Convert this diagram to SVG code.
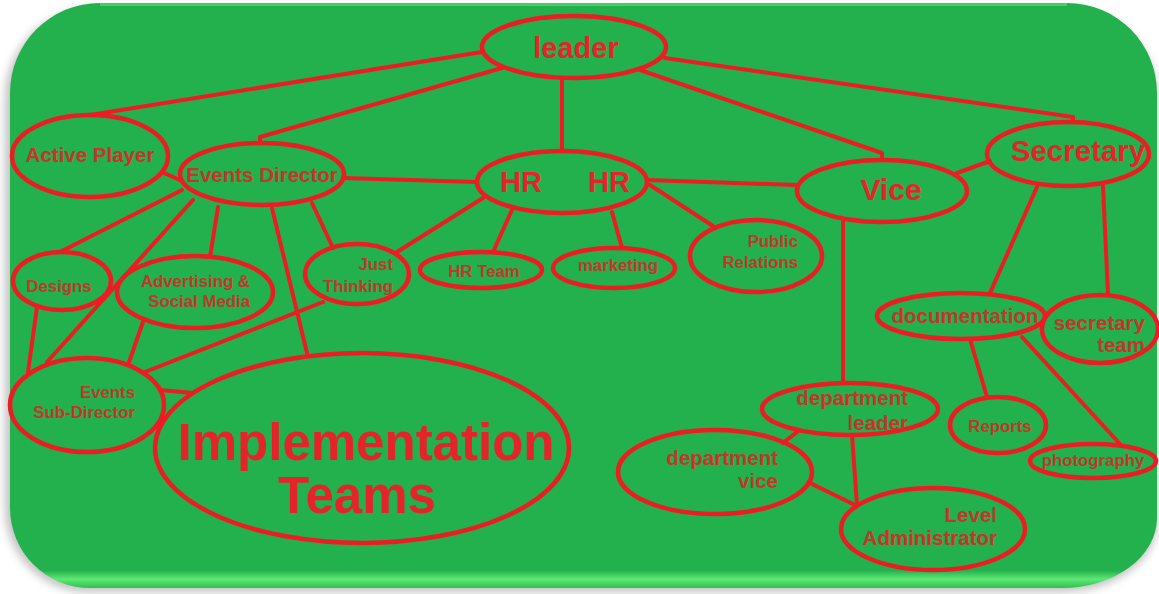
<svg xmlns="http://www.w3.org/2000/svg" width="1159" height="594" viewBox="0 0 1159 594">
<defs>
<style>
.n{fill:none;stroke:#ec1c24;stroke-width:4.5}
.c line,.c polyline{fill:none;stroke:#ec1c24;stroke-width:4;stroke-linecap:round;stroke-linejoin:round}
text{font-family:"Liberation Sans",Arial,sans-serif;font-weight:bold}
.s{fill:#c0372c;font-size:16.8px}
.m{fill:#c4352b;font-size:20.5px}
.b{fill:#e3252b}
</style>
<filter id="sh" x="-5%" y="-5%" width="110%" height="110%"><feGaussianBlur stdDeviation="4"/></filter>
<linearGradient id="gb" x1="0" y1="0" x2="0" y2="1">
<stop offset="0" stop-color="#22b14c"/>
<stop offset="0.97" stop-color="#22b14c"/>
<stop offset="0.985" stop-color="#5fe874"/>
<stop offset="1" stop-color="#2fbf4f"/>
</linearGradient>
</defs>
<rect width="1159" height="594" fill="#ffffff"/>
<path d="M5,98 A90,90 0 0 1 95,8 H1065 A92,90 0 0 1 1157,98 V520 A95,70 0 0 1 1062,592 H88 A83,83 0 0 1 5,509 Z" fill="#9a9a9a" opacity="0.6" filter="url(#sh)"/>
<path d="M10,93 A90,90 0 0 1 100,3 H1067 A90,90 0 0 1 1157,93 V518 A95,70 0 0 1 1062,588 H90 A80,80 0 0 1 10,508 Z" fill="url(#gb)"/>
<path d="M100,4.5 H1067" stroke="#5fe37a" stroke-width="3" opacity="0.6"/>

<g class="c" id="connectors">
<line x1="482" y1="52" x2="90" y2="115"/>
<polyline points="502,68 260,137 260,143"/>
<line x1="562" y1="78" x2="562" y2="151"/>
<polyline points="640,70 882,153 882,160"/>
<polyline points="665,58 1073,117 1073,122"/>
<line x1="162" y1="172" x2="182" y2="181"/>
<line x1="343" y1="178" x2="477" y2="182"/>
<line x1="647" y1="180" x2="797" y2="185"/>
<line x1="957" y1="173" x2="990" y2="161"/>
<line x1="182" y1="190" x2="60" y2="252"/>
<line x1="193" y1="200" x2="47" y2="362"/>
<line x1="218" y1="207" x2="210" y2="257"/>
<line x1="272" y1="208" x2="307" y2="353"/>
<line x1="312" y1="203" x2="333" y2="248"/>
<line x1="483" y1="198" x2="397" y2="252"/>
<line x1="512" y1="210" x2="493" y2="252"/>
<line x1="612" y1="212" x2="622" y2="248"/>
<line x1="650" y1="185" x2="713" y2="226"/>
<line x1="37" y1="307" x2="28" y2="372"/>
<line x1="143" y1="322" x2="128" y2="365"/>
<line x1="323" y1="302" x2="145" y2="372"/>
<line x1="160" y1="390" x2="193" y2="393"/>
<line x1="843" y1="222" x2="843" y2="383"/>
<line x1="1037" y1="187" x2="990" y2="293"/>
<line x1="1103" y1="186" x2="1108" y2="295"/>
<line x1="970" y1="339" x2="987" y2="397"/>
<line x1="1022" y1="337" x2="1120" y2="444"/>
<line x1="797" y1="432" x2="783" y2="443"/>
<line x1="852" y1="435" x2="857" y2="505"/>
<line x1="810" y1="483" x2="853" y2="504"/>
</g>

<g id="leader"><ellipse class="n" cx="574" cy="47" rx="92" ry="31"/><text class="b" x="576" y="58" font-size="29" text-anchor="middle">leader</text></g>
<g id="hr"><ellipse class="n" cx="562" cy="182" rx="85" ry="31"/><text class="b" x="521" y="192" font-size="29" text-anchor="middle">HR</text><text class="b" x="609" y="192" font-size="29" text-anchor="middle">HR</text></g>
<g id="active-player"><ellipse class="n" cx="90" cy="156" rx="78" ry="41"/><text class="m" x="90" y="162" font-size="21.5" text-anchor="middle" fill="#cf2f2c">Active Player</text></g>
<g id="events-director"><ellipse class="n" cx="262" cy="174" rx="82" ry="31"/><text class="m" x="262" y="182" text-anchor="middle">Events Director</text></g>
<g id="vice"><ellipse class="n" cx="882" cy="191" rx="85" ry="31"/><text class="b" x="891" y="200" font-size="30" text-anchor="middle">Vice</text></g>
<g id="secretary"><ellipse class="n" cx="1068" cy="154" rx="81" ry="32"/><text class="b" x="1078" y="161" font-size="29.5" text-anchor="middle">Secretary</text></g>
<g id="documentation"><ellipse class="n" cx="961" cy="316" rx="84" ry="23"/><text class="m" x="965" y="323" text-anchor="middle">documentation</text></g>
<g id="secretary-team"><ellipse class="n" cx="1100" cy="329" rx="58" ry="34"/><text class="m" x="1145" y="330" text-anchor="end">secretary</text><text class="m" x="1145" y="352" text-anchor="end">team</text></g>
<g id="reports"><ellipse class="n" cx="998" cy="425" rx="48" ry="28"/><text class="s" x="1000" y="432" text-anchor="middle">Reports</text></g>
<g id="photography"><ellipse class="n" cx="1093" cy="461" rx="63" ry="17"/><text class="s" x="1093" y="466" text-anchor="middle">photography</text></g>
<g id="department-leader"><ellipse class="n" cx="850" cy="409" rx="88" ry="26"/><text class="m" x="908" y="405" text-anchor="end">department</text><text class="m" x="908" y="430" text-anchor="end">leader</text></g>
<g id="department-vice"><ellipse class="n" cx="715" cy="472" rx="97" ry="42"/><text class="m" x="778" y="465" text-anchor="end">department</text><text class="m" x="778" y="488" text-anchor="end">vice</text></g>
<g id="level-administrator"><ellipse class="n" cx="933" cy="529" rx="92" ry="41"/><text class="m" x="997" y="522" text-anchor="end">Level</text><text class="m" x="997" y="545" text-anchor="end">Administrator</text></g>
<g id="public-relations"><ellipse class="n" cx="756" cy="256" rx="66" ry="36"/><text class="s" x="798" y="247" text-anchor="end">Public</text><text class="s" x="798" y="268" text-anchor="end">Relations</text></g>
<g id="hr-team"><ellipse class="n" cx="481" cy="270" rx="61" ry="18"/><text class="s" x="484" y="277" text-anchor="middle">HR Team</text></g>
<g id="marketing"><ellipse class="n" cx="614" cy="268" rx="61" ry="20"/><text class="s" x="618" y="271" text-anchor="middle">marketing</text></g>
<g id="just-thinking"><ellipse class="n" cx="357" cy="274" rx="52" ry="30"/><text class="s" x="393" y="270" font-size="17" text-anchor="end">Just</text><text class="s" x="393" y="292" font-size="17" text-anchor="end">Thinking</text></g>
<g id="designs"><ellipse class="n" cx="62" cy="281" rx="49" ry="29"/><text class="s" x="59" y="292" text-anchor="middle">Designs</text></g>
<g id="advertising"><ellipse class="n" cx="195" cy="292" rx="78" ry="36"/><text class="s" x="250" y="287" text-anchor="end">Advertising &amp;</text><text class="s" x="250" y="307" text-anchor="end">Social Media</text></g>
<g id="events-sub-director"><ellipse class="n" cx="87" cy="405" rx="77" ry="47"/><text class="s" x="135" y="398" text-anchor="end">Events</text><text class="s" x="135" y="418" text-anchor="end">Sub-Director</text></g>
<g id="implementation-teams"><ellipse class="n" cx="362" cy="448" rx="207" ry="95"/><text class="b" x="366" y="460" font-size="51" text-anchor="middle">Implementation</text><text class="b" x="357" y="513" font-size="51" text-anchor="middle">Teams</text></g>
</svg>
